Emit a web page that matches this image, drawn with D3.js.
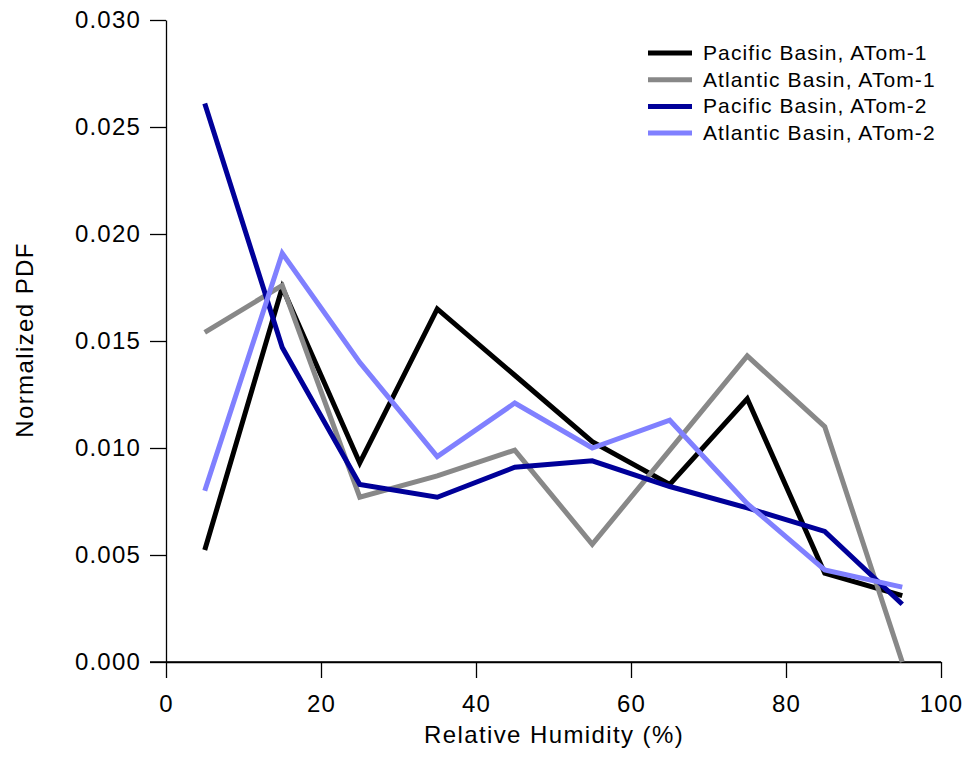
<!DOCTYPE html>
<html><head><meta charset="utf-8">
<script src="https://cdn.jsdelivr.net/npm/d3@7"></script>
<style>body{margin:0;background:#fff;} text{font-family:"Liberation Sans",Arial,sans-serif;}</style>
</head><body>
<svg id="chart" width="967" height="761"></svg>
<script>
const rhBins = [5, 15, 25, 35, 45, 55, 65, 75, 85, 95];
const pacificAtom1 = [0.00523, 0.0175, 0.0093, 0.0165, 0.0134, 0.0103, 0.0083, 0.0123, 0.00415, 0.0031];
const atlanticAtom1 = [0.0154, 0.0176, 0.0077, 0.0087, 0.0099, 0.0055, 0.0099, 0.0143, 0.0110, 0.0];
const pacificAtom2 = [0.0261, 0.0147, 0.0083, 0.0077, 0.0091, 0.0094, 0.0082, 0.0072, 0.0061, 0.0027];
const atlanticAtom2 = [0.0080, 0.0191, 0.0140, 0.0096, 0.0121, 0.0100, 0.0113, 0.0074, 0.0043, 0.0035];
const seriesNames = ["Pacific Basin, ATom-1", "Atlantic Basin, ATom-1", "Pacific Basin, ATom-2", "Atlantic Basin, ATom-2"];
const seriesColors = ["#000000", "#888888", "#000099", "#8080ff"];
const xTicks = [0, 20, 40, 60, 80, 100];
const yTicks = [0, 0.005, 0.01, 0.015, 0.02, 0.025, 0.03];

const series = [pacificAtom1, atlanticAtom1, pacificAtom2, atlanticAtom2];
const svg = d3.select("#chart");
const x = d3.scaleLinear().domain([0, 100]).range([166, 941]);
const y = d3.scaleLinear().domain([0, 0.03]).range([662, 20]);

const xAxis = svg.append("g").attr("transform", "translate(0,662)")
  .call(d3.axisBottom(x).tickValues(xTicks).tickFormat(d3.format("d")).tickSize(16).tickSizeOuter(0).tickPadding(17));
const yAxis = svg.append("g").attr("transform", "translate(166,0)")
  .call(d3.axisLeft(y).tickValues(yTicks).tickFormat(d3.format(".3f")).tickSize(16).tickSizeOuter(0).tickPadding(9));
[xAxis, yAxis].forEach(a => {
  a.selectAll("path").attr("stroke", "#000").attr("stroke-width", 1.3);
  a.selectAll("line").attr("stroke", "#000").attr("stroke-width", 1.3);
  a.selectAll("text").attr("font-size", 24).attr("letter-spacing", 1.2).attr("fill", "#000")
    .attr("font-family", "Liberation Sans, Arial, sans-serif");
});
svg.append("line").attr("x1", 150).attr("x2", 941).attr("y1", 662).attr("y2", 662).attr("stroke", "#000").attr("stroke-width", 1.3);

svg.append("text").attr("x", 554).attr("y", 743).attr("text-anchor", "middle")
  .attr("font-size", 24).attr("letter-spacing", 1.4).text("Relative Humidity (%)");
svg.append("text").attr("transform", "translate(33,340) rotate(-90)").attr("text-anchor", "middle")
  .attr("font-size", 24).attr("letter-spacing", 1.4).text("Normalized PDF");

const line = d3.line().x((d, i) => x(rhBins[i])).y(d => y(d));
series.forEach((s, k) => {
  svg.append("path").datum(s).attr("d", line).attr("fill", "none")
    .attr("stroke", seriesColors[k]).attr("stroke-width", 5).attr("stroke-linejoin", "miter");
});

const leg = svg.append("g");
seriesNames.forEach((n, k) => {
  const yy = 53 + k * 26.7;
  leg.append("line").attr("x1", 648).attr("x2", 692).attr("y1", yy).attr("y2", yy)
    .attr("stroke", seriesColors[k]).attr("stroke-width", 5);
  leg.append("text").attr("x", 703).attr("y", yy + 7).attr("font-size", 21).attr("letter-spacing", 1.1).text(n);
});
</script>
</body></html>
